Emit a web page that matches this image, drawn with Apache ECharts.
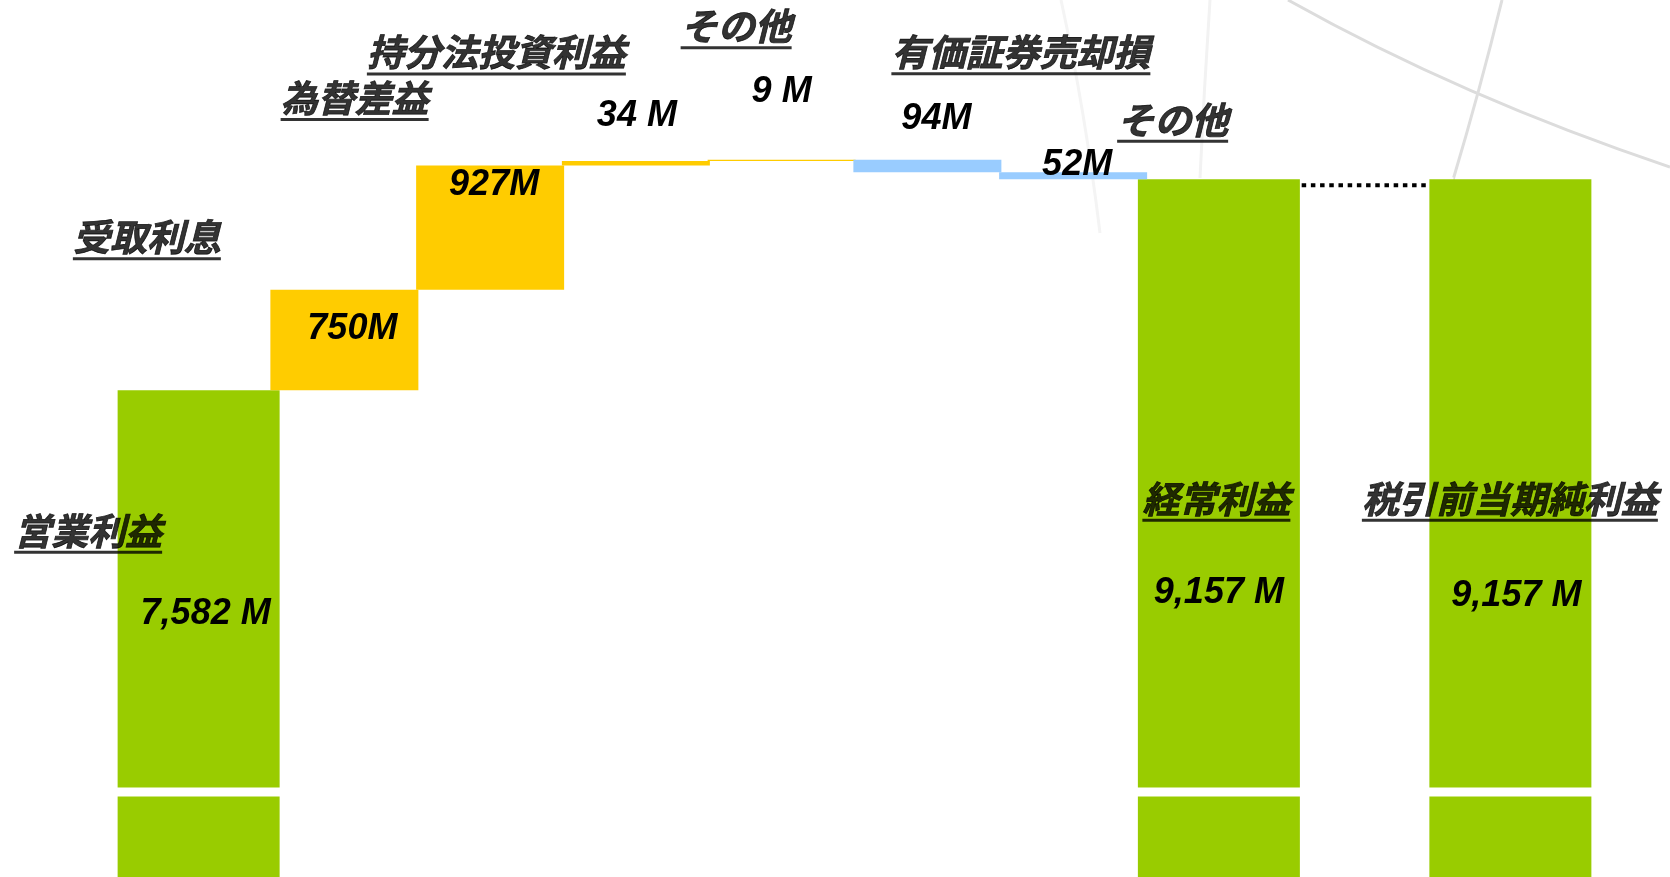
<!DOCTYPE html>
<html>
<head>
<meta charset="utf-8">
<title>営業利益から税引前当期純利益まで</title>
<script src="https://cdn.jsdelivr.net/npm/echarts@6.0.0/dist/echarts.min.js"></script>
<style>
  html, body { margin: 0; padding: 0; background: #fff; }
  #main { width: 1670px; height: 877px; }
</style>
</head>
<body>
<div id="main"></div>
<script>
// 項目と金額（百万円）
var categories = ['営業利益', '受取利息', '為替差益', '持分法投資利益', 'その他', '有価証券売却損', 'その他', '経常利益', '税引前当期純利益'];
var kinds = ['total', 'up', 'up', 'up', 'up', 'down', 'down', 'total', 'total'];
var amounts = [7582, 750, 927, 34, 9, -94, -52, 9157, 9157];
var amountLabels = ['7,582 M', '750M', '927M', '34 M', '9 M', '94M', '52M', '9,157 M', '9,157 M'];

// ラベルの位置（棒の上端中央からのずれ, px）
var nameShift = [[-110, 164], [-197, -29], [-135, -44], [-139, -85], [-45, -110], [94, -84], [100, -29], [-2, 343], [0, 343]];
var valueShift = [[7, 224], [8, 39], [4, 20], [1, -45], [0, -68], [9, -41], [4, -7], [0, 414], [6, 417]];

var GREEN = '#99cc00', YELLOW = '#ffcc00', BLUE = '#99ccff';
var NAME_SIZE = 37;

// 両端に余白の枠、経常利益と税引前の間に空き枠をひとつ
var axisData = [''], slots = [];
categories.forEach(function (c, i) {
    if (i === categories.length - 1) axisData.push('');
    slots.push(axisData.length);
    axisData.push(c);
});
axisData.push('');

function blank() { return axisData.map(function () { return '-'; }); }
var baseData = blank(), upData = blank(), downData = blank(), totalData = blank(), linkData = blank();
var nameData = [];
var running = 0;
categories.forEach(function (c, i) {
    var s = slots[i], v = amounts[i], top;
    var lab = {
        formatter: amountLabels[i],
        position: ['50%', valueShift[i][1]],
        offset: [valueShift[i][0], 0]
    };
    if (kinds[i] === 'total') {
        running = v; top = v;
        totalData[s] = { value: v, label: lab };
        if (i > 0) linkData[s] = v;
    } else if (v >= 0) {
        baseData[s] = running;
        upData[s] = { value: v, label: lab };
        running += v; top = running;
    } else {
        top = running; running += v;
        baseData[s] = running;
        downData[s] = { value: -v, label: lab };
    }
    // 下線つきの項目名
    nameData.push({
        value: [s, top],
        label: {
            formatter: '{t|' + c + '}\n{u|}',
            position: nameShift[i],
            rich: {
                t: {
                    fontFamily: '"Noto Sans CJK JP", sans-serif', fontSize: NAME_SIZE, fontWeight: 'bold', fontStyle: 'italic',
                    color: '#000', textBorderColor: '#000', textBorderWidth: 0.8, lineHeight: 40
                },
                u: { width: c.length * NAME_SIZE, height: 3, backgroundColor: '#000' }
            }
        }
    });
});

var valueFont = {
    show: true, color: '#000', fontFamily: '"Liberation Sans", Arial, sans-serif',
    fontSize: 36, fontWeight: 'bold', fontStyle: 'italic', align: 'center', verticalAlign: 'middle'
};

var myChart = echarts.init(document.getElementById('main'));
var option = {
    animation: false,
    backgroundColor: '#fff',
    // 背景の薄い曲線
    graphic: [
        { type: 'bezierCurve', silent: true, z: -10, shape: { x1: 1288, y1: 0, cpx1: 1461, cpy1: 97, x2: 1670, y2: 167 }, style: { stroke: '#dcdcdc', lineWidth: 3, fill: null } },
        { type: 'bezierCurve', silent: true, z: -10, shape: { x1: 1502, y1: 0, cpx1: 1480, cpy1: 90, x2: 1453, y2: 180 }, style: { stroke: '#dedede', lineWidth: 3, fill: null } },
        { type: 'bezierCurve', silent: true, z: -10, shape: { x1: 1061, y1: 0, cpx1: 1085, cpy1: 110, x2: 1100, y2: 233 }, style: { stroke: '#f4f4f4', lineWidth: 3, fill: null } },
        { type: 'bezierCurve', silent: true, z: -10, shape: { x1: 1210, y1: 0, cpx1: 1204, cpy1: 90, x2: 1200, y2: 178 }, style: { stroke: '#f2f2f2', lineWidth: 3, fill: null } }
    ],
    grid: { left: -20, right: -59, top: 93, bottom: 0, outerBoundsMode: 'none' },
    xAxis: [
        { type: 'category', data: axisData, show: false },
        { type: 'category', data: axisData, show: false }
    ],
    yAxis: {
        type: 'value', min: 0, max: 9800,
        breaks: [{ start: 600, end: 4615, gap: 67 }],
        breakArea: {
            itemStyle: { color: '#fff', borderWidth: 0, opacity: 1 },
            zigzagAmplitude: 0,
            expandOnClick: false
        },
        axisLine: { show: false }, axisTick: { show: false },
        axisLabel: { show: false }, splitLine: { show: false }
    },
    series: [
        {
            name: 'link', type: 'line', xAxisIndex: 0, data: linkData, connectNulls: true,
            symbol: 'none', z: 1, silent: true,
            lineStyle: { color: '#fff', width: 4, type: [4.5, 4.7], shadowColor: '#000', shadowOffsetY: 6, shadowBlur: 0 }
        },
        {
            name: 'total', type: 'bar', xAxisIndex: 0, barWidth: 162, data: totalData,
            itemStyle: { color: GREEN }, label: valueFont
        },
        {
            name: 'base', type: 'bar', xAxisIndex: 1, stack: 'wf', barWidth: 148, data: baseData,
            itemStyle: { color: 'rgba(0,0,0,0)' }, silent: true
        },
        {
            name: 'up', type: 'bar', xAxisIndex: 1, stack: 'wf', barWidth: 148, data: upData,
            itemStyle: { color: YELLOW }, label: valueFont
        },
        {
            name: 'down', type: 'bar', xAxisIndex: 1, stack: 'wf', barWidth: 148, data: downData,
            itemStyle: { color: BLUE }, label: valueFont
        },
        {
            name: 'names', type: 'scatter', xAxisIndex: 1, data: nameData, symbol: 'rect', symbolSize: 1,
            itemStyle: { color: 'rgba(0,0,0,0)' }, z: 5,
            label: { show: true, align: 'center', verticalAlign: 'bottom' }
        }
    ]
};
myChart.setOption(option);
</script>
</body>
</html>
